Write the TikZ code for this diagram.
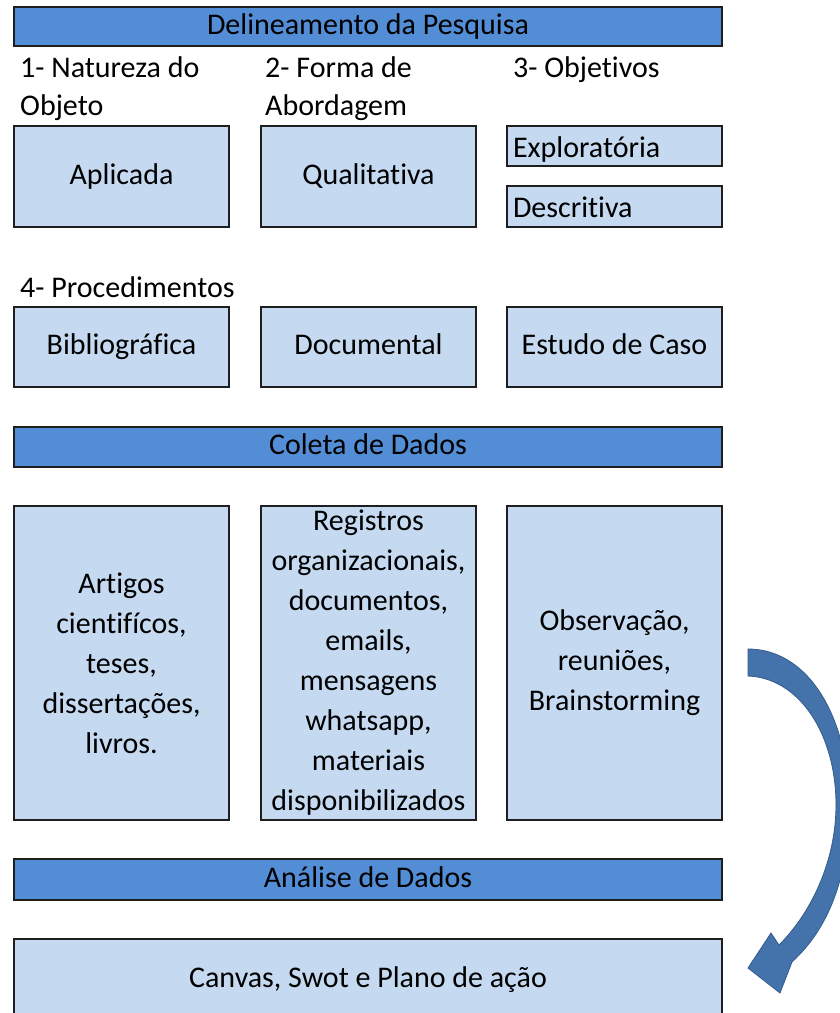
\documentclass[tikz,border=0pt]{standalone}
\usepackage{fontspec}
\setmainfont{Carlito}[Ligatures=NoCommon]
\definecolor{barblue}{RGB}{83,141,213}
\definecolor{boxblue}{RGB}{197,217,241}
\definecolor{arrowblue}{RGB}{68,114,170}
\definecolor{arrowedge}{RGB}{52,92,140}
\definecolor{edgegray}{RGB}{30,30,30}
\begin{document}
\begin{tikzpicture}[x=1pt,y=-1pt,
  every node/.style={font=\fontsize{30}{39}\selectfont, inner sep=0pt},
  bar/.style={draw=edgegray, line width=1.3pt, fill=barblue, minimum width=708, minimum height=40, text height=22.5pt, text depth=7.5pt},
  lbox/.style={draw=edgegray, line width=1.3pt, fill=boxblue, minimum width=215, text height=22.5pt, text depth=7.5pt},
  tallbox/.style={draw=edgegray, line width=1.3pt, fill=boxblue, minimum width=215, minimum height=314, align=center, font=\fontsize{30}{40}\selectfont},
  lbl/.style={anchor=base west}
]
\useasboundingbox (0,0) rectangle (839,1013);

\node[bar, minimum height=39] (delin) at (368,26.5) {Delineamento da Pesquisa};

\node[lbl] (nat) at (20,77) {1- Natureza do};
\node[lbl] (obj) at (20,115) {Objeto};
\node[lbl] (forma) at (265,77) {2- Forma de};
\node[lbl] (abord) at (265,115) {Abordagem};
\node[lbl] (objt) at (513,77) {3- Objetivos};

\node[lbox, minimum height=101] (apl) at (121.5,176.5) {Aplicada};
\node[lbox, minimum height=101] (qual) at (368.5,176.5) {Qualitativa};
\node[lbox, minimum height=40, text width=203, align=left, text height=26pt, text depth=4pt] (expl) at (614.5,146) {Exploratória};
\node[lbox, minimum height=41, text width=203, align=left, text height=26pt, text depth=4pt] (desc) at (614.5,206.5) {Descritiva};

\node[lbl] (proc) at (20,297) {4- Procedimentos};

\node[lbox, minimum height=80] (bib) at (121.5,347) {Bibliográfica};
\node[lbox, minimum height=80] (doc) at (368.5,347) {Documental};
\node[lbox, minimum height=80] (caso) at (614.5,347) {Estudo de Caso};

\node[bar] (coleta) at (368,447) {Coleta de Dados};

\node[tallbox] (art) at (121.5,663) {Artigos\\cientifícos,\\teses,\\dissertações,\\livros.};
\node[tallbox] (reg) at (368.5,663) {Registros\\organizacionais,\\documentos,\\emails,\\mensagens\\whatsapp,\\materiais\\disponibilizados};
\node[tallbox] (obs) at (614.5,663) {Observação,\\reuniões,\\Brainstorming};

\node[bar, minimum height=41] (anal) at (368,879.5) {Análise de Dados};

\node[lbox, minimum width=708, minimum height=82] (canvas) at (368,980) {Canvas, Swot e Plano de ação};

\coordinate (tailtop) at (748,649);
\coordinate (tailbot) at (748,676);
\coordinate (tip) at (748,968);
\fill[arrowblue, draw=arrowedge, line width=0.8pt]
  (tailtop) .. controls (812,649) and (852,725) .. (849,815)
  .. controls (847,877) and (830,927) .. (792,962)
  -- (780,993) -- (tip) -- (771,933) -- (779,945)
  .. controls (812,912) and (836,860) .. (836,805)
  .. controls (836,735) and (800,678) .. (tailbot) -- cycle;
\end{tikzpicture}
\end{document}
